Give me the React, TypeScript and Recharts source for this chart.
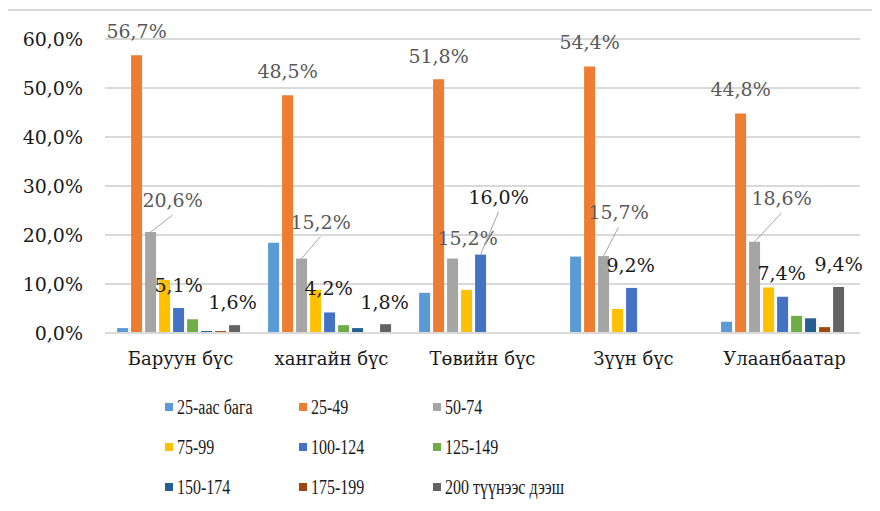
import { BarChart, Bar, XAxis, YAxis, CartesianGrid, LabelList } from "recharts";

// regions and size groups
const regions = ["Баруун бүс", "хангайн бүс", "Төвийн бүс", "Зүүн бүс", "Улаанбаатар"];
const groups = ["25-аас бага", "25-49", "50-74", "75-99", "100-124", "125-149", "150-174", "175-199", "200 түүнээс дээш"];

// share (%) per size group, one value per region
const under25 = [1.0, 18.4, 8.2, 15.6, 2.3];
const g25_49 = [56.7, 48.5, 51.8, 54.4, 44.8];
const g50_74 = [20.6, 15.2, 15.2, 15.7, 18.6];
const g75_99 = [10.8, 8.8, 8.8, 4.9, 9.3];
const g100_124 = [5.1, 4.2, 16.0, 9.2, 7.4];
const g125_149 = [2.8, 1.6, 0, 0, 3.5];
const g150_174 = [0.4, 1.0, 0, 0, 3.0];
const g175_199 = [0.4, 0.2, 0, 0, 1.2];
const over200 = [1.6, 1.8, 0, 0, 9.4];

const yTicks = [0, 10, 20, 30, 40, 50, 60];

const series = [under25, g25_49, g50_74, g75_99, g100_124, g125_149, g150_174, g175_199, over200];
const COLORS = ["#5B9BD5", "#ED7D31", "#A5A5A5", "#FFC000", "#4472C4", "#70AD47", "#255E91", "#9E480E", "#636363"];

const data = regions.map((name, i) => {
  const row: Record<string, string | number> = { name };
  series.forEach((s, k) => (row[`s${k}`] = s[i]));
  return row;
});

// label placement (dx, dy from bar top centre, leader line) - Excel moved some of them by hand
type Pos = [number, number, boolean] | null;
const LABELS: Record<number, { color: string; pos: Pos[] }> = {
  1: { color: "#595959", pos: [[0, -24, false], [0, -24, false], [0, -23, false], [0, -24, false], [0, -24, false]] },
  2: { color: "#595959", pos: [[22, -32, true], [19, -37, true], [15, -21, false], [15, -44, true], [27, -44, true]] },
  4: { color: "#1a1a1a", pos: [[0, -23, false], [-1, -24, false], [18, -58, true], [-1, -23, false], [-1, -24, false]] },
  8: { color: "#1a1a1a", pos: [[-2, -23, false], [-1, -22, false], null, null, [0, -23, false]] },
};

const PLOT_LEFT = 105;
const PLOT_RIGHT = 860;

const fmt = (v: number) => v.toFixed(1).replace(".", ",") + "%";
const FONT = "'DejaVu Serif', serif";

function makeLabel(k: number) {
  const cfg = LABELS[k];
  return (props: any) => {
    const { x, y, width, value } = props;
    const bx = Number(x) + Number(width) / 2;
    // zero bars may be skipped, so find the region from the bar position
    const band = (PLOT_RIGHT - PLOT_LEFT) / regions.length;
    const i = Math.floor((bx - PLOT_LEFT) / band);
    const p = cfg.pos[i];
    if (!p || !value) return null;
    const by = Number(y);
    const cx = bx + p[0];
    const cy = by + p[1];
    return (
      <g>
        {p[2] && <line x1={bx} y1={by} x2={cx} y2={cy + 15} stroke="#a6a6a6" strokeWidth={1} />}
        <text x={cx} y={cy} textAnchor="middle" dominantBaseline="central" fontFamily={FONT} fontSize={19} fill={cfg.color}>
          {fmt(Number(value))}
        </text>
      </g>
    );
  };
}

export default function App() {
  return (
    <div style={{ position: "relative", margin: -8, width: 880, height: 511, overflow: "hidden", background: "#fff" }}>
      <div style={{ position: "absolute", left: 6, top: 9, width: 900, height: 600, border: "2px solid #d9d9d9" }} />
      <BarChart
        width={880}
        height={511}
        data={data}
        margin={{ top: 39, right: 880 - PLOT_RIGHT, left: 0, bottom: 148 }}
        barCategoryGap="8%"
        barGap={3}
        style={{ position: "absolute", left: 0, top: 0 }}
      >
        <CartesianGrid vertical={false} stroke="#d9d9d9" strokeWidth={2} />
        <XAxis
          dataKey="name"
          height={30}
          axisLine={{ stroke: "#d9d9d9", strokeWidth: 2 }}
          tickLine={false}
          tickSize={0}
          tickMargin={19}
          tick={{ fontFamily: FONT, fontSize: 18, fill: "#1a1a1a" }}
        />
        <YAxis
          width={PLOT_LEFT}
          domain={[0, 60]}
          ticks={yTicks}
          tickFormatter={fmt}
          axisLine={false}
          tickLine={false}
          tickSize={0}
          tickMargin={22}
          tick={{ fontFamily: FONT, fontSize: 19, fill: "#1a1a1a" }}
        />
        {groups.map((g, k) => (
          <Bar key={g} dataKey={`s${k}`} name={g} fill={COLORS[k]} isAnimationActive={false}>
            {LABELS[k] && <LabelList dataKey={`s${k}`} content={makeLabel(k)} />}
          </Bar>
        ))}
      </BarChart>
      <div
        style={{
          position: "absolute",
          left: 165,
          top: 387,
          display: "grid",
          gridTemplateColumns: "134px 134px 160px",
          gridAutoRows: "40px",
          fontFamily: "'Liberation Serif', serif",
          fontSize: 20,
          color: "#1a1a1a",
        }}
      >
        {groups.map((g, k) => (
          <div key={g} style={{ display: "flex", alignItems: "center", gap: 4, whiteSpace: "nowrap" }}>
            <span style={{ width: 8, height: 8, background: COLORS[k], display: "inline-block", flexShrink: 0 }} />
            <span style={{ display: "inline-block", transform: "scaleX(0.8)", transformOrigin: "left center" }}>{g}</span>
          </div>
        ))}
      </div>
    </div>
  );
}
